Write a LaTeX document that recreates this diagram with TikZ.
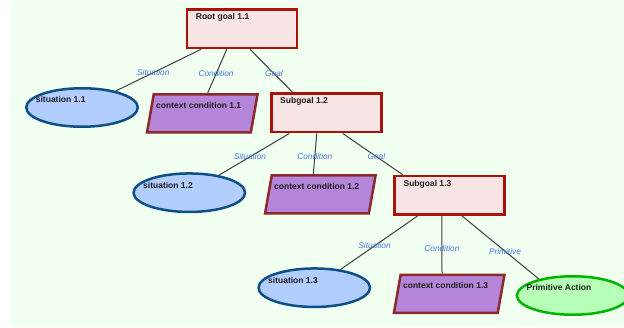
\documentclass[tikz,border=0pt]{standalone}
\usepackage{fontspec}
\setsansfont{Liberation Sans}
\usetikzlibrary{shapes.geometric}
\definecolor{paper}{HTML}{F0FFF0}
\definecolor{goalred}{HTML}{A8140C}
\definecolor{goalfill}{HTML}{F8E4E4}
\definecolor{sitblue}{HTML}{0D4F86}
\definecolor{sitfill}{HTML}{B2CDFF}
\definecolor{condline}{HTML}{8A2A2A}
\definecolor{condfill}{HTML}{B585D9}
\definecolor{actgreen}{HTML}{00B300}
\definecolor{actfill}{HTML}{B6FFB6}
\definecolor{link}{HTML}{3E3E3E}
\definecolor{linktx}{HTML}{4A74D2}

\begin{document}
\begin{tikzpicture}[x=1pt,y=-1pt,font=\sffamily,
    nodetx/.style={anchor=base west,inner sep=0pt,text=black!88,
      font=\sffamily\bfseries\fontsize{8.5}{10}\selectfont},
    intext/.style 2 args={append after command={
      node[nodetx,xshift=-46.3pt,yshift=#2] at (\tikzlastnode.center) {#1}}},
    goal/.style={draw=goalred,fill=goalfill,line width=2.5pt,
      minimum width=110pt,minimum height=38.5pt,intext={#1}{9pt}},
    situation/.style={ellipse,draw=sitblue,fill=sitfill,line width=2.5pt,
      minimum width=111.5pt,minimum height=38.5pt,intext={#1}{4.6pt}},
    condition/.style={trapezium,trapezium left angle=80,trapezium right angle=100,
      trapezium stretches body=true,inner xsep=1pt,inner ysep=19pt,
      draw=condline,fill=condfill,line width=2.5pt,
      minimum width=110.5pt,intext={#1}{5pt}},
    action/.style={ellipse,draw=actgreen,fill=actfill,line width=2.5pt,
      minimum width=111.5pt,minimum height=38.5pt,intext={#1}{5pt}},
    link/.style={draw=link,line width=1pt},
    lbl/.style={text=linktx,font=\sffamily\itshape\fontsize{8.3}{9}\selectfont,
      inner sep=0pt,pos=0.56}]

  \useasboundingbox (0,0) rectangle (624,328);
  \fill[paper] (10,1.5) rectangle (624,326);

  % goal tree
  \node[goal=Root goal 1.1] (root) at (242,28.8) {};
  \node[situation=situation 1.1] (sit11) at (82,107.5) {};
  \node[condition=context condition 1.1] (cc11) at (202.3,113.3) {};
  \node[goal=Subgoal 1.2] (sub12) at (326.3,113) {};
  \node[situation=situation 1.2] (sit12) at (189.3,192.7) {};
  \node[condition=context condition 1.2] (cc12) at (320.3,194.5) {};
  \node[goal=Subgoal 1.3] (sub13) at (449.7,195.3) {};
  \node[situation=situation 1.3] (sit13) at (314.3,287.7) {};
  \node[condition=context condition 1.3] (cc13) at (449.2,293.8) {};
  \node[action=Primitive Action] (act) at (572.7,295.5) {};

  \draw[link] ([xshift=15.3pt]root.south west) -- (sit11) node[lbl]{Situation};
  \draw[link] ([xshift=41pt]root.south west) -- ([xshift=55pt]cc11.top left corner)
    node[lbl]{Condition};
  \draw[link] ([xshift=64.3pt]root.south west) -- ([xshift=22.7pt]sub12.north west)
    node[lbl]{Goal};

  \draw[link] ([xshift=19.3pt]sub12.south west) -- (sit12) node[lbl]{Situation};
  \draw[link] ([xshift=46.7pt]sub12.south west) -- ([xshift=42.6pt]cc12.top left corner)
    node[lbl]{Condition};
  \draw[link] ([xshift=72.7pt]sub12.south west) -- ([xshift=9.4pt]sub13.north west)
    node[lbl]{Goal};

  \draw[link] ([xshift=24.4pt]sub13.south west) -- (sit13) node[lbl]{Situation};
  \draw[link] ([xshift=48.4pt]sub13.south west) -- ([xshift=42.4pt]cc13.top left corner)
    node[lbl]{Condition};
  \draw[link] ([xshift=68.4pt]sub13.south west) -- (act.154) node[lbl]{Primitive};
\end{tikzpicture}
\end{document}
